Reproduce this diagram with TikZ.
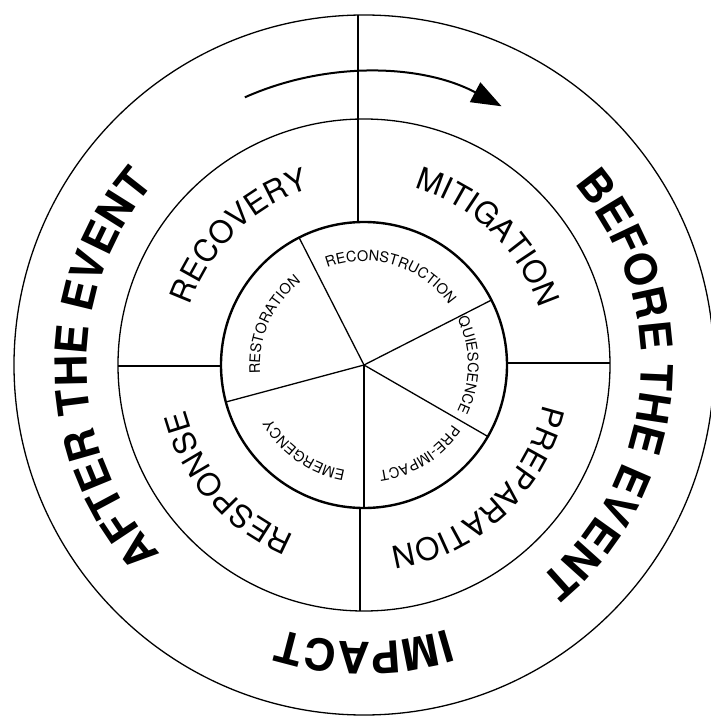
\documentclass[tikz,border=0pt]{standalone}
\usepackage{fontspec}
\setmainfont{TeX Gyre Heros}
\usetikzlibrary{positioning, arrows.meta, decorations.text}

\newcommand{\outerfont}{\fontsize{44}{44}\selectfont\bfseries}
\newcommand{\phasefont}{\fontsize{31}{31}\selectfont}
\newcommand{\stagefont}{\fontsize{14.5}{14.5}\selectfont}
% text round the hub, clockwise, tops outward
\newcommand{\ringtext}[3]{%
    \path[decorate, decoration={text along path, text={#3}, text align=center}]
        ({#2+80}:#1) arc[start angle={#2+80}, end angle={#2-80}, radius=#1];}

\begin{document}
\begin{tikzpicture}[
    x=1pt, y=1pt,
    ring/.style={line width=1.3pt},
    core/.style={line width=2.4pt},
    cycle arrow/.style={line width=2pt, -{Triangle[length=30pt, width=22pt]}}
]
    \useasboundingbox (-364,-352) rectangle (346,365);
    \coordinate (hub) at (0,0);

    \draw[ring] (hub) circle[radius=350];
    \draw[ring] (hub) circle[radius=246];
    \draw[core] (hub) circle[radius=143];

    \draw[ring] (-6,350) -- (-6,143);
    \draw[ring] (-4,-143) -- (-4,-246);
    \draw[ring] (-246,-1) -- (-143,-1);
    \draw[ring] (143,2) -- (246,2);
    \foreach \a in {117, 27, -30, -90, 195}
        \draw[ring] (hub) -- (\a:143);

    \draw[cycle arrow] (114:293) arc[start angle=114, end angle=62, radius=293];

    \ringtext{277}{-5}{|\outerfont|BEFORE THE EVENT}
    \ringtext{277}{181}{|\outerfont|AFTER THE EVENT}
    \ringtext{277}{-90}{|\outerfont|IMPACT}

    \ringtext{184}{134}{|\phasefont|RECOVERY}
    \ringtext{184}{46}{|\phasefont|MITIGATION}
    \ringtext{184}{-47}{|\phasefont|PREPARATION}
    \ringtext{184}{221}{|\phasefont|RESPONSE}

    \ringtext{104}{156}{|\stagefont|RESTORATION}
    \ringtext{104}{73}{|\stagefont|RECONSTRUCTION}
    \ringtext{104}{0}{|\stagefont|QUIESCENCE}
    \ringtext{107}{-58}{|\stagefont|PRE-IMPACT}
    \ringtext{107}{-125}{|\stagefont|EMERGENCY}
\end{tikzpicture}
\end{document}
